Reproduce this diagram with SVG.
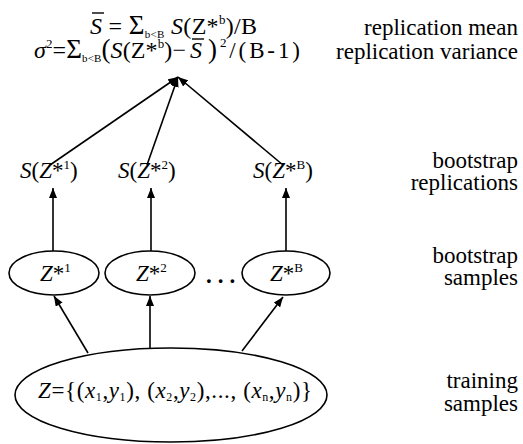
<svg xmlns="http://www.w3.org/2000/svg" width="523" height="444" viewBox="0 0 523 444">
<style>
text{font-family:'Liberation Serif','Times New Roman',Times,serif;font-size:23px;fill:#000}
.f{font-size:24px}
.i{font-style:italic}
.lbl{text-anchor:end}
.sub{font-size:12px}
.fsub{font-size:11px}
.sup{font-size:13px}
.big{font-size:27px}
.ell{fill:none;stroke:#000;stroke-width:1.6}
.c{stroke:#000;stroke-width:1.6;fill:none;marker-end:url(#ah)}
.bar{stroke:#000;stroke-width:1.4}
</style>
<defs>
<marker id="ah" viewBox="0 0 10 8" refX="10" refY="4" markerWidth="10" markerHeight="8" markerUnits="userSpaceOnUse" orient="auto">
<path d="M0,0 L10,4 L0,8 z" fill="#000"/>
</marker>
</defs>
<g id="formula">
<text class="f" x="90" y="34" textLength="167" lengthAdjust="spacing"><tspan class="i">S</tspan> = <tspan class="big">Σ</tspan><tspan class="fsub" dy="4">b&lt;B</tspan><tspan class="i" dy="-4"> S</tspan>(Z*<tspan class="sup" dy="-10">b</tspan><tspan dy="10">)/B</tspan></text>
<line class="bar" x1="92" y1="13" x2="104" y2="13"/>
<text class="f" x="34" y="58" textLength="152" lengthAdjust="spacing"><tspan class="i">σ</tspan><tspan class="sup" dy="-10">2</tspan><tspan dy="10">=</tspan><tspan class="big">Σ</tspan><tspan class="fsub" dy="4">b&lt;B</tspan><tspan class="big" dy="-4">(</tspan><tspan class="i">S</tspan>(Z*<tspan class="sup" dy="-10">b</tspan><tspan dy="10">)−</tspan></text>
<text class="f i" x="190" y="58">S</text>
<line class="bar" x1="192" y1="39" x2="204" y2="39"/>
<text x="208" y="58" font-size="26" textLength="92" lengthAdjust="spacing"><tspan class="big">)</tspan><tspan class="sup" dy="-11">2</tspan><tspan dy="11">/(B-1)</tspan></text>
</g>
<g id="labels">
<text class="lbl" x="518" y="35">replication mean</text>
<text class="lbl" x="518" y="59">replication variance</text>
<text class="lbl" x="518" y="168">bootstrap</text>
<text class="lbl" x="518" y="190">replications</text>
<text class="lbl" x="518" y="263">bootstrap</text>
<text class="lbl" x="518" y="285">samples</text>
<text class="lbl" x="518" y="388">training</text>
<text class="lbl" x="518" y="411">samples</text>
</g>
<g id="rep1"><text x="20" y="178"><tspan class="i">S</tspan>(<tspan class="i">Z</tspan>*<tspan class="sup" dy="-9">1</tspan><tspan dy="9">)</tspan></text></g>
<g id="rep2"><text x="118" y="178"><tspan class="i">S</tspan>(<tspan class="i">Z</tspan>*<tspan class="sup" dy="-9">2</tspan><tspan dy="9">)</tspan></text></g>
<g id="repB"><text x="253" y="178"><tspan class="i">S</tspan>(<tspan class="i">Z</tspan>*<tspan class="sup" dy="-9">B</tspan><tspan dy="9">)</tspan></text></g>
<g id="samp1"><ellipse class="ell" cx="54" cy="273" rx="45" ry="22"/><text x="40" y="281"><tspan class="i">Z</tspan>*<tspan class="sup" dy="-9">1</tspan></text></g>
<g id="samp2"><ellipse class="ell" cx="150" cy="273" rx="45" ry="22"/><text x="136" y="281"><tspan class="i">Z</tspan>*<tspan class="sup" dy="-9">2</tspan></text></g>
<g id="dots"><text x="206" y="283" font-size="26" font-weight="bold" letter-spacing="6">...</text></g>
<g id="sampB"><ellipse class="ell" cx="286" cy="273" rx="44" ry="22"/><text x="270" y="281"><tspan class="i">Z</tspan>*<tspan class="sup" dy="-9">B</tspan></text></g>
<g id="train"><ellipse class="ell" cx="171" cy="395" rx="156" ry="47"/>
<text x="38" y="398" textLength="274" lengthAdjust="spacing"><tspan class="i">Z</tspan>={(<tspan class="i">x</tspan><tspan class="sub" dy="3">1</tspan><tspan dy="-3">,</tspan><tspan class="i">y</tspan><tspan class="sub" dy="3">1</tspan><tspan dy="-3">), (</tspan><tspan class="i">x</tspan><tspan class="sub" dy="3">2</tspan><tspan dy="-3">,</tspan><tspan class="i">y</tspan><tspan class="sub" dy="3">2</tspan><tspan dy="-3">),..., (</tspan><tspan class="i">x</tspan><tspan class="sub" dy="3">n</tspan><tspan dy="-3">,</tspan><tspan class="i">y</tspan><tspan class="sub" dy="3">n</tspan><tspan dy="-3">)}</tspan></text>
</g>
<g id="connectors">
<line class="c" x1="50" y1="165" x2="178" y2="77"/>
<line class="c" x1="147" y1="165" x2="178" y2="77"/>
<line class="c" x1="283" y1="165" x2="178" y2="77"/>
<line class="c" x1="53" y1="251" x2="53" y2="188"/>
<line class="c" x1="151" y1="251" x2="151" y2="188"/>
<line class="c" x1="286" y1="251" x2="286" y2="188"/>
<line class="c" x1="88" y1="353" x2="54" y2="296"/>
<line class="c" x1="150" y1="348" x2="150" y2="296"/>
<line class="c" x1="242" y1="351" x2="283" y2="297"/>
</g>
</svg>
